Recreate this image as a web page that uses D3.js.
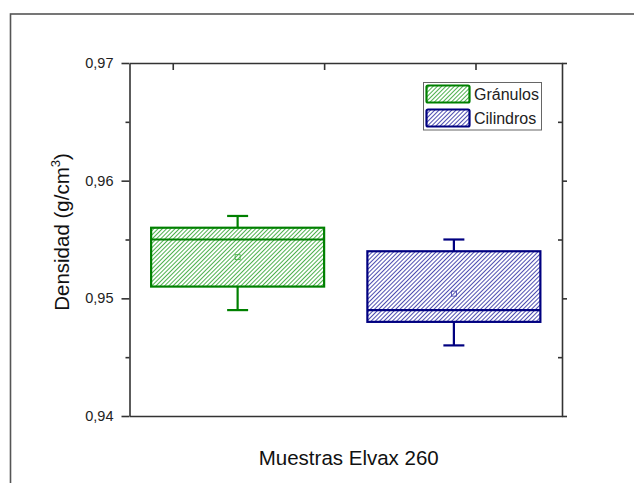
<!DOCTYPE html>
<html lang="es">
<head>
  <meta charset="UTF-8" />
  <title>Densidad Elvax 260</title>
  <script src="https://d3js.org/d3.v7.min.js"></script>
  <style>
    body { margin: 0; background: #fff; }
    svg { display: block; font-family: "Liberation Sans", Arial, sans-serif; }
  </style>
</head>
<body>
  <svg id="chart" width="634" height="483"></svg>

  <script>
    const series = ['Gránulos', 'Cilindros'];
    const positions = [1, 2];
    const whiskerLow = [0.949, 0.946];
    const q1 = [0.951, 0.948];
    const median = [0.955, 0.949];
    const q3 = [0.956, 0.954];
    const whiskerHigh = [0.957, 0.955];
    const means = [0.9535, 0.9504];
    const colors = ['#008000', '#000080'];
    const hatchColors = ['#3aa83a', '#3a3aa8'];
    const yTicks = [0.94, 0.95, 0.96, 0.97];
    const yMinor = [0.945, 0.955, 0.965];
    const topTicks = [0.7, 1.4, 2.1];

    const margin = { left: 129.5, right: 72, top: 63, bottom: 67 };
    const W = 634, H = 483;
    const svg = d3.select('#chart');

    // outer frame
    svg.append('rect')
      .attr('x', 10.5).attr('y', 14)
      .attr('width', 700).attr('height', 600)
      .attr('fill', 'none').attr('stroke', '#555').attr('stroke-width', 1.6);

    const x = d3.scaleLinear().domain([0.5, 2.5]).range([margin.left, W - margin.right]);
    const y = d3.scaleLinear().domain([0.94, 0.97]).range([H - margin.bottom, margin.top]);

    // hatch patterns
    const defs = svg.append('defs');
    hatchColors.forEach((c, i) => {
      const p = defs.append('pattern')
        .attr('id', 'hatch' + i)
        .attr('patternUnits', 'userSpaceOnUse')
        .attr('width', 3).attr('height', 3)
        .attr('patternTransform', 'rotate(45)');
      p.append('rect').attr('width', 3).attr('height', 3).attr('fill', '#fff');
      p.append('line')
        .attr('x1', 0).attr('y1', 0).attr('x2', 0).attr('y2', 3)
        .attr('stroke', c).attr('stroke-width', 1.8);
    });

    const fmt = d => d3.format('.2f')(d).replace('.', ',');

    // left axis
    svg.append('g')
      .attr('transform', `translate(${margin.left},0)`)
      .call(d3.axisLeft(y).tickValues(yTicks).tickSize(8).tickSizeOuter(0).tickFormat(fmt))
      .call(g => g.attr('font-family', null))
      .call(g => g.selectAll('text').style('font-size', '14.5px').attr('fill', '#222').attr('dx', -5))
      .call(g => g.selectAll('line, path').attr('stroke', '#333').attr('stroke-width', 1.6));
    svg.append('g')
      .attr('transform', `translate(${margin.left},0)`)
      .call(d3.axisLeft(y).tickValues(yMinor).tickSize(4).tickFormat(''))
      .call(g => g.select('.domain').remove())
      .call(g => g.selectAll('line').attr('stroke', '#333').attr('stroke-width', 1.6));

    // right axis
    svg.append('g')
      .attr('transform', `translate(${W - margin.right},0)`)
      .call(d3.axisLeft(y).tickValues(yTicks).tickSize(-5).tickSizeOuter(0).tickFormat(''))
      .call(g => g.selectAll('line, path').attr('stroke', '#333').attr('stroke-width', 1.6));
    svg.append('g')
      .attr('transform', `translate(${W - margin.right},0)`)
      .call(d3.axisLeft(y).tickValues(yMinor).tickSize(4).tickFormat(''))
      .call(g => g.select('.domain').remove())
      .call(g => g.selectAll('line').attr('stroke', '#333').attr('stroke-width', 1.6));

    // bottom axis
    svg.append('g')
      .attr('transform', `translate(0,${H - margin.bottom})`)
      .call(d3.axisBottom(x).tickValues([]).tickSizeOuter(0))
      .call(g => g.selectAll('path').attr('stroke', '#333').attr('stroke-width', 1.6));

    // top axis
    svg.append('g')
      .attr('transform', `translate(0,${margin.top})`)
      .call(d3.axisTop(x).tickValues(topTicks).tickSize(-7).tickSizeOuter(0).tickFormat(''))
      .call(g => g.selectAll('line, path').attr('stroke', '#333').attr('stroke-width', 1.6));

    // boxes
    const boxW = x(1.3) - x(0.5);
    const capW = 21;
    const g = svg.append('g');
    positions.forEach((p, i) => {
      const cx = x(p);
      const col = colors[i];
      // whiskers
      g.append('line')
        .attr('x1', cx).attr('x2', cx).attr('y1', y(q3[i])).attr('y2', y(whiskerHigh[i]))
        .attr('stroke', col).attr('stroke-width', 2.2);
      g.append('line')
        .attr('x1', cx).attr('x2', cx).attr('y1', y(q1[i])).attr('y2', y(whiskerLow[i]))
        .attr('stroke', col).attr('stroke-width', 2.2);
      [whiskerHigh[i], whiskerLow[i]].forEach(v => {
        g.append('line')
          .attr('x1', cx - capW / 2).attr('x2', cx + capW / 2).attr('y1', y(v)).attr('y2', y(v))
          .attr('stroke', col).attr('stroke-width', 2.2);
      });
      // box
      g.append('rect')
        .attr('x', cx - boxW / 2).attr('y', y(q3[i]))
        .attr('width', boxW).attr('height', y(q1[i]) - y(q3[i]))
        .attr('fill', `url(#hatch${i})`)
        .attr('stroke', col).attr('stroke-width', 2.2);
      g.append('line')
        .attr('x1', cx - boxW / 2).attr('x2', cx + boxW / 2)
        .attr('y1', y(median[i])).attr('y2', y(median[i]))
        .attr('stroke', col).attr('stroke-width', 2.2);
      // mean
      g.append('rect')
        .attr('x', cx - 2.5).attr('y', y(means[i]) - 2.5)
        .attr('width', 5).attr('height', 5)
        .attr('fill', 'none').attr('stroke', hatchColors[i]).attr('stroke-width', 0.8);
    });

    // legend
    const lg = svg.append('g').attr('transform', 'translate(423.5,82.5)');
    lg.append('rect')
      .attr('width', 118).attr('height', 47.5)
      .attr('fill', '#fff').attr('stroke', '#666').attr('stroke-width', 1);
    series.forEach((s, i) => {
      const ly = 3 + i * 24;
      lg.append('rect')
        .attr('x', 3).attr('y', ly).attr('width', 43).attr('height', 17)
        .attr('rx', 1.5)
        .attr('fill', `url(#hatch${i})`)
        .attr('stroke', colors[i]).attr('stroke-width', 2.2);
      lg.append('text')
        .attr('x', 50.5).attr('y', ly + 8.5)
        .attr('dy', '0.36em')
        .attr('font-size', 16).attr('fill', '#222')
        .text(s);
    });

    // axis titles
    svg.append('text')
      .attr('x', (x(0.5) + x(2.5)) / 2 + 3)
      .attr('y', 465)
      .attr('text-anchor', 'middle')
      .attr('font-size', 20.5).attr('fill', '#111')
      .text('Muestras Elvax 260');

    const yt = svg.append('text')
      .attr('transform', `translate(69,232) rotate(-90)`)
      .attr('text-anchor', 'middle')
      .attr('font-size', 20.5).attr('fill', '#111');
    yt.append('tspan').text('Densidad (g/cm');
    yt.append('tspan').attr('font-size', 13).attr('dy', -9).text('3');
    yt.append('tspan').attr('dy', 9).text(')');
  </script>
</body>
</html>
